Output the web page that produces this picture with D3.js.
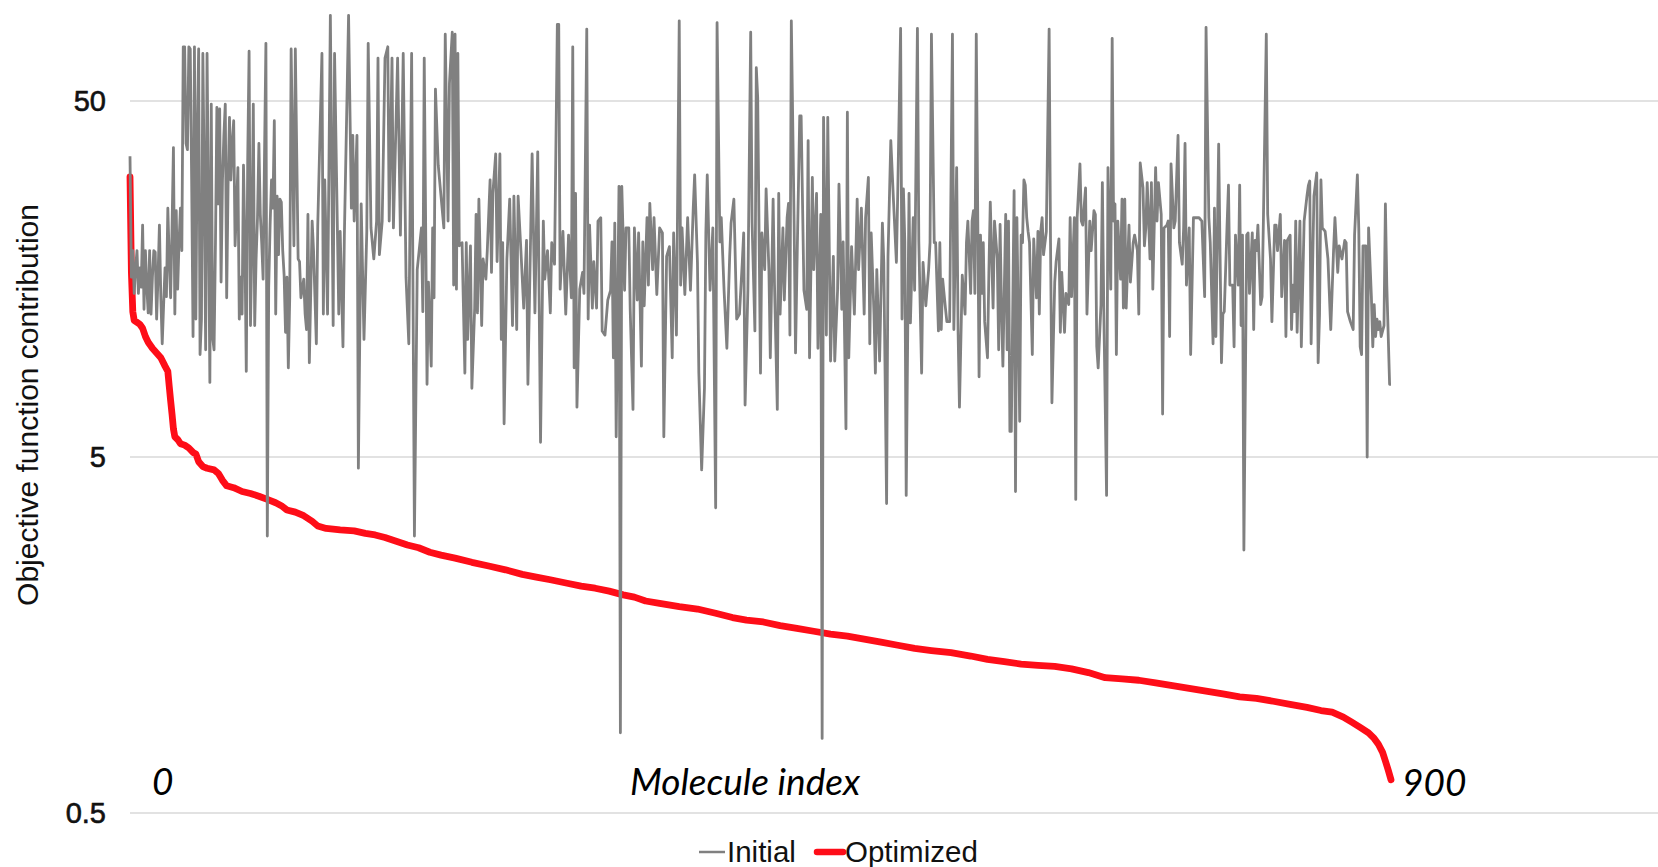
<!DOCTYPE html>
<html>
<head>
<meta charset="utf-8">
<script src="https://cdn.jsdelivr.net/npm/d3@7"></script>
<style>
  html, body { margin: 0; padding: 0; background: #ffffff; }
  svg { display: block; }
</style>
</head>
<body>
<svg id="chart" width="1658" height="867"></svg>
<script>
// ---- data -------------------------------------------------------------
const yTickValues = [0.5, 5, 50];
const yTickLabels = ["0.5", "5", "50"];
const xEndLabels = ["0", "900"];
const xTitle = "Molecule index";
const yTitle = "Objective function contribution";
const seriesNames = ["Initial", "Optimized"];

// [molecule index, contribution] before optimization
const initialPoints = [
  [0,35],[1,16],[2,19],[3,14.4],[4,17],[5,19],[6,14.4],[7,17],[8,15],[9,22.4],[10,13],[11,19],[12,15],[13,12.7],[14,19],[15,12.6],[16,16],[17,19],[18,18.8],[19,12.2],[20,16],[21,22.4],[22,14],[23,10.4],[24,13.4],[25,17],[26,14.1],[27,25],[28,18],[29,14],[30,22],[31,37],[32,12.6],[33,24.6],[34,14.8],[35,20],[36,25],[37,19],[38,71],[39,71],[40,38],[41,36.5],[42,71],[43,70],[44,30],[45,10.9],[46,71],[47,12.2],[48,40],[49,70],[50,9.7],[51,12.2],[52,68],[53,30],[54,10],[55,68],[56,25],[57,8.1],[58,49],[59,10.8],[60,10],[61,20],[62,48],[63,25.7],[64,47.5],[65,15.5],[66,30],[67,40],[68,49],[69,14],[70,29],[71,45],[72,30],[73,38],[74,44],[75,19.6],[76,25],[77,32.5],[78,12.2],[79,16],[80,12.6],[81,33],[82,20],[83,8.7],[84,34],[85,69],[86,11.7],[87,20],[88,49],[89,11.7],[90,18],[91,23.5],[92,38],[93,24],[94,20],[95,15.8],[96,35],[97,72.6],[98,3.0],[99,15],[100,22.4],[101,30],[102,25],[103,44],[104,12.6],[105,27],[106,18.5],
  [107,26.5],[108,26],[109,19],[110,16.2],[111,11.2],[112,16],[113,8.9],[114,14],[115,70],[117,19.6],[118,70],[120,18],[121,17.7],[122,14],[124,15.8],[125,12.6],[126,11.4],[127,24],[128,9.2],[130,23],[131,19],[133,10.4],[134,22.4],[137,68],[138,12.6],[139,30],[141,12.6],[143,87],[145,11.7],[146,68],[149,12.6],[150,21.5],[152,10.2],[153,21],[156,87],[158,25],[159,40],[160,23],[162,40],[163,4.65],[165,25.7],[167,10.7],[169,21.5],[170,72.6],[172,22],[174,18],[176,23],[177,66],[178,18.5],[180,23],[182,66],[184,71],[185,23],[187,66],[188,22],[191,66],[193,21],[195,68],[197,16],[199,10.4],[201,68],[203,3.0],[205,16.8],[208,22],[209,12.8],[210,66],[212,8],[213,15.5],[215,9],[216,22],[217,14],[218,54],[220,33],[224,22],[225,77],[227,23],[228,56],
  [230,78],[231,15.2],[232,77],[233,14.8],[234,68],[235,19.6],[237,20],[239,8.6],[240,20],[241,10.7],[243,19.6],[244,7.8],[246,13.1],[247,24],[248,12.7],[249,26.5],[251,11.7],[252,18],[254,15.8],[255,19],[257,30],[258,16.5],[259,27.5],[261,35.5],[262,17.7],[264,35.5],[265,10.7],[266,20],[267,6.2],[269,18],[271,26.5],[273,11.7],[274,27],[276,11.4],[277,27],[279,19],[281,13.1],[283,20.3],[284,8],[287,35.5],[289,12.7],[291,36],[293,5.5],[295,23],[296,15.8],[298,19],[300,12.7],[301,20],[303,17.4],[305,82],[306,82],[307,14.8],[309,21.5],[311,12.6],[313,21],[315,14],[316,71],[317,8.9],[318,27.5],[319,6.9],[321,14.8],[323,16.5],[324,14.4],[326,79.6],[327,12.2],[328,22.4],[330,13.1],[331,17.7],[333,13.1],[334,23],
  [336,23.5],[337,11.3],[339,11],[341,13.8],[343,14.7],[344,20.1],[345,9.5],[346,22.7],[347,5.7],[349,28.8],[350,0.84],[351,28.8],[353,14.7],[354,22],[356,22],[357,13],[359,6.8],[360,22],[362,13.8],[363,21.3],[365,9],[366,20.1],[367,13.3],[369,23.5],[370,15.2],[371,25.8],[373,16.8],[374,23.5],[376,14.3],[378,22],[380,21.3],[381,5.7],[383,18.3],[385,19.5],[387,9.5],[388,21.3],[390,11],[392,84],[393,15.2],[394,22],[396,14.3],[398,23.5],[400,14.7],[402,25],[403,31],[405,17.6],[406,8.6],[408,4.6],[410,7.8],[411,21.3],[412,31],[414,14.7],[416,22],[418,3.6],[419,83],[421,20.1],[422,23.5],[424,14.7],[426,10.1],[428,18.3],[429,22.7],[431,26.5],[433,12.2],[435,12.6],[437,17.6],[438,21.3],[439,7.0],[441,14.7],[443,78],[444,22.7],[446,11.3],[447,62],[448,51],[450,8.6],[451,21.3],[453,16.8],[454,28.3],[456,16.8],
  [457,9.5],[459,26.5],[460,15.2],[462,6.8],[463,27.5],[464,12.6],[466,22],[467,13.8],[469,23.5],[470,25.8],[471,11],[472,84],[474,22.7],[475,9.8],[476,16.8],[478,45.4],[479,45.4],[481,14.7],[483,13],[484,38.7],[485,9.5],[487,30.5],[488,16.8],[490,27.5],[491,10.1],[493,24],[494,0.81],[495,45],[497,11],[498,45],[500,9.3],[502,18.3],[503,9.3],[505,14.7],[506,29.2],[508,13],[509,20.1],[511,6.0],[512,46.5],[513,9.5],[515,19.5],[517,12.6],[519,26.5],[520,16.8],[522,25],[524,12.6],[525,23.5],[527,30.5],[528,10.4],[529,21.3],[531,12.6],[532,8.6],[533,16.8],[535,9.3],[537,22.7],[538,17.6],[540,3.7],[541,18.3],[543,38.7],[545,25.8],[547,17.6],[548,28.3],[550,80],[551,12.2],[552,28.3],[553,20.1],[554,3.9],[556,27.5],[557,11.9],[559,23.5],[560,14.7],[562,80],[563,20.1],[565,8.6],[566,17.6],[568,13.3],[570,16.8],
  [571,20],[572,77],[574,20],[575,20],[577,11.3],[578,20],[579,11.4],[580,15.8],[582,13.1],[583,12],[585,12],[587,77],[588,11.4],[590,32.5],[591,11.4],[592,6.9],[594,16.2],[596,12.6],[597,20],[598,23],[600,14.4],[601,23],[602,24.6],[603,14.4],[604,77],[606,8.4],[607,21],[608,14.4],[609,20],[610,12],[612,9.5],[613,16.5],[614,26],[616,13.1],[617,23],[619,18],[620,10],[621,22.5],[622,13.1],[623,9],[625,24],[626,10],[627,23],[628,5.9],[629,5.9],[631,28],[632,4.0],[633,23.5],[635,6.3],[636,21],[637,20],[638,30],[639,29],[640,23.5],[641,21.5],[642,20],[644,9.7],[645,20.5],[647,14],[648,21.5],[649,12.6],[650,21.5],[651,23.5],[652,18.5],[654,21.5],[656,79.6],[657,20],[658,7.1],[660,15.5],[661,17.7],[663,20.5],[664,11.2],[665,16.5],[667,11.2],[668,14.4],[670,13.4],[671,23.5],[672,14.1],[674,23.5],[675,3.8],[676,23.5],[678,33.3],[679,23],[680,22.4],[682,28.5],[683,12.6],[685,23],
  [686,19],[688,24.6],[689,24],[690,10.2],[691,8.9],[693,13.4],[694,29.5],[695,13.1],[697,3.9],[698,32.5],[700,14.8],[701,75],[702,23],[703,25.7],[704,9.7],[705,23],[707,15.8],[708,26.5],[709,13.1],[710,26.5],[711,13.1],[713,22.4],[714,15.5],[716,20],[717,21],[719,19],[720,12.6],[721,33.5],[723,28.5],[724,19.6],[725,22],[726,29.5],[728,18],[729,29.5],[730,14.8],[732,32.5],[733,23],[734,29.5],[736,24],[737,6.6],[738,22],[740,22.4],[741,23],[742,10.9],[743,33.3],[745,22],[746,23],[748,40],[749,20],[751,17.4],[752,22],[753,38],[754,15.2],[756,22],[757,9.7],[759,23.5],[760,23.5],[761,23.5],[763,23.5],[765,23],[767,14.1],[768,80.5],[770,23.5],[771,20],[773,10.4],[774,25],[775,10.9],[776,20],[777,37.8],[779,9.2],[780,12.6],[781,12.8],[783,22.4],[784,29],[785,15.2],[787,15.2],[788,10.2],[789,21],[791,15.2],[792,29],[793,11.7],[794,21],[795,2.74],[797,21],[798,21.3],
  [799,14.4],[801,21.3],[802,11.4],[803,20.3],[804,19],[805,22.4],[807,13.4],[808,14.1],[809,24],[811,77],[812,24],[814,18],[815,12],[817,22.4],[818,22.4],[819,19],[821,24],[822,14.1],[824,20.3],[825,10.9],[826,20.3],[828,21],[829,11.4],[830,15.2],[831,12.8],[832,23],[833,11.2],[835,23],[836,10.2],[838,23],[840,27],[841,28.9],[842,29.8],[843,10.4],[845,27],[847,31.4],[848,9.2],[849,12.6],[850,30],[851,22],[853,21.5],[855,18],[856,14.4],[857,11.4],[859,19],[860,23.5],[862,16.5],[863,19.6],[865,18],[867,20.3],[868,20],[869,12.8],[871,12],[873,11.4],[874,21],[876,31],[877,22],[878,10.2],[879,9.7],[880,19.6],[882,19.6],[883,5.0],[884,22],[886,14.1],[887,10.2],[888,13.4],[889,10.9],[890,12.2],[891,11.4],[892,12],[893,10.9],[895,11.7],[896,25.7],[897,15.2],[899,8],[900,8]
];

// [molecule index, contribution] after optimization (sorted descending)
const optimizedPoints = [
  [0,30.6],[1,16.5],[2,12.8],[3,12.1],[7,11.8],[9,11.5],[11,10.9],[13,10.5],[16,10.1],[19,9.8],[22,9.5],[25,9.0],[27,8.7],[28,7.9],[29,7.2],[30,6.6],[31,6.0],[32,5.7],[34,5.6],[36,5.45],[39,5.4],[42,5.3],[45,5.15],[47,5.1],[49,4.85],[52,4.7],[55,4.65],[60,4.6],[63,4.5],[66,4.3],[69,4.15],[74,4.1],[80,4.0],[86,3.95],[92,3.88],[98,3.8],[104,3.72],[108,3.65],[112,3.55],[118,3.5],[124,3.42],[130,3.3],[134,3.2],[140,3.15],[150,3.12],[160,3.1],[168,3.05],[175,3.02],[182,2.97],[190,2.9],[198,2.83],[206,2.78],[214,2.7],[222,2.65],[232,2.6],[244,2.53],[256,2.47],[268,2.41],[280,2.34],[290,2.3],[300,2.26],[312,2.21],[322,2.17],[332,2.14],[342,2.1],[352,2.05],[360,2.02],[368,1.97],[378,1.94],[392,1.9],[405,1.87],[418,1.82],[430,1.77],[440,1.74],[452,1.72],[464,1.68],[476,1.65],[488,1.62],[500,1.59],[512,1.57],[524,1.54],[536,1.51],[548,1.48],[560,1.45],[572,1.43],[586,1.41],[600,1.38],[612,1.35],[624,1.33],[636,1.31],[648,1.3],[660,1.29],[672,1.27],[684,1.24],[696,1.2],[708,1.19],[720,1.18],[732,1.16],[744,1.14],[756,1.12],[768,1.1],[780,1.08],[792,1.06],[804,1.05],[816,1.03],[828,1.01],[840,0.99],[850,0.97],[858,0.96],[866,0.93],[872,0.9],[878,0.87],[884,0.84],[888,0.81],[891,0.78],[894,0.74],[896,0.7],[898,0.66],[900,0.62]
];

// ---- layout ---------------------------------------------------------
const W = 1658, H = 867;
const plotLeft = 130, plotRight = 1658;
const x = d3.scaleLinear().domain([0, 900]).range([130, 1391]);
const y = d3.scaleLog().domain([0.5, 50]).range([813, 101]);

const colors = { Initial: "#808080", Optimized: "#fe0d18" };
const sans = "'Liberation Sans', Arial, Helvetica, sans-serif";
const italicFont = "Lato, 'Open Sans', sans-serif";

const svg = d3.select("#chart");
svg.append("rect").attr("width", W).attr("height", H).attr("fill", "#ffffff");

// horizontal gridlines on the log axis
svg.append("g").selectAll("line").data(yTickValues).join("line")
  .attr("x1", plotLeft).attr("x2", plotRight)
  .attr("y1", d => y(d)).attr("y2", d => y(d))
  .attr("stroke", "#d9d9d9").attr("stroke-width", 1.5);

// y tick labels
svg.append("g").selectAll("text").data(yTickValues).join("text")
  .attr("x", 106).attr("y", d => y(d)).attr("dy", "0.36em")
  .attr("text-anchor", "end")
  .style("font-family", sans).style("font-size", "29px")
  .attr("fill", "#111").attr("stroke", "#111").attr("stroke-width", 0.6)
  .text((d, i) => yTickLabels[i]);

// y axis title
svg.append("text")
  .attr("transform", "translate(27,405) rotate(-90)")
  .attr("text-anchor", "middle").attr("dy", "0.36em")
  .style("font-family", sans).style("font-size", "30px").attr("fill", "#111")
  .text(yTitle);

// series lines
const line = d3.line().x(d => x(d[0])).y(d => y(d[1]));

svg.append("path").datum(optimizedPoints)
  .attr("d", line).attr("fill", "none")
  .attr("stroke", colors.Optimized).attr("stroke-width", 6.8)
  .attr("stroke-linejoin", "round").attr("stroke-linecap", "round");

svg.append("path").datum(initialPoints)
  .attr("d", line).attr("fill", "none")
  .attr("stroke", colors.Initial).attr("stroke-width", 2.8)
  .attr("stroke-linejoin", "round");

// italic index labels
const italic = sel => sel.style("font-family", italicFont).style("font-style", "italic")
  .style("font-size", "37px").attr("fill", "#000");
svg.append("text").attr("x", x(0) + 22).attr("y", 795).call(italic).text(xEndLabels[0]);
svg.append("text").attr("x", x(900) + 11).attr("y", 796).call(italic).text(xEndLabels[1]);
svg.append("text").attr("x", 745).attr("y", 795).attr("text-anchor", "middle").call(italic).text(xTitle);

// legend
const legend = svg.append("g");
const legendItems = [
  { name: seriesNames[0], x0: 699, x1: 725, tx: 727, w: 2.5 },
  { name: seriesNames[1], x0: 817, x1: 843, tx: 845, w: 6.5 }
];
legendItems.forEach(it => {
  legend.append("line").attr("x1", it.x0).attr("x2", it.x1).attr("y1", 852).attr("y2", 852)
    .attr("stroke", colors[it.name]).attr("stroke-width", it.w).attr("stroke-linecap", it.w > 3 ? "round" : "butt");
  legend.append("text").attr("x", it.tx).attr("y", 862)
    .style("font-family", sans).style("font-size", "29.5px").attr("fill", "#111")
    .text(it.name);
});
</script>
</body>
</html>
